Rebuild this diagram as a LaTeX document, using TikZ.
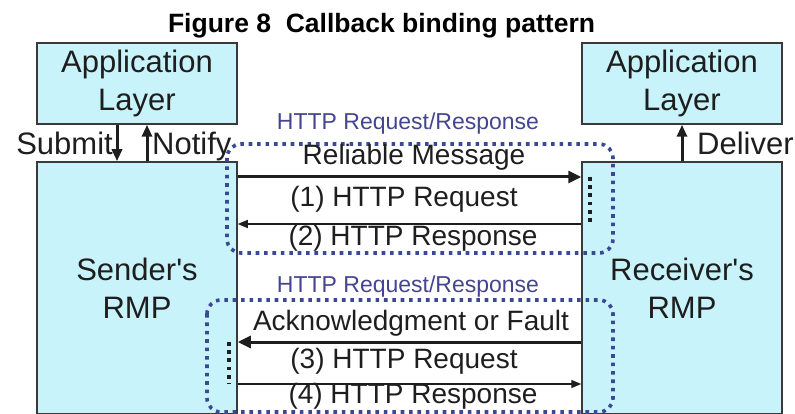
\documentclass[tikz,border=0pt]{standalone}
\usepackage{fontspec}
\setmainfont{Liberation Sans}
\usetikzlibrary{arrows.meta, positioning, calc}
\definecolor{cbink}{HTML}{1E1E1E}
\definecolor{cbfill}{HTML}{C8F3FA}
\definecolor{cbedge}{HTML}{3A3A3A}
\definecolor{cbring}{HTML}{3B4896}
\definecolor{cbtext}{HTML}{45458F}
\tikzset{
  layerbox/.style={draw=cbedge, fill=cbfill, line width=1.5pt, minimum width=200pt,
                   align=center, text=cbink, inner sep=0pt,
                   font=\fontsize{31}{38}\selectfont},
  msg/.style={anchor=base, inner sep=0pt, text=cbink, font=\fontsize{28}{33}\selectfont},
  side/.style={inner sep=0pt, text=cbink, font=\fontsize{31}{36}\selectfont},
  bindlbl/.style={anchor=base, inner sep=0pt, text=cbtext, font=\fontsize{23}{27}\selectfont},
  httpring/.style={cbring, line width=3.6pt, dash pattern=on 3.6pt off 4.8pt,
                   rounded corners=14pt},
  tipdots/.style={cbink, line width=3.8pt, dash pattern=on 3.8pt off 4.4pt},
  heavy/.style={-{Triangle[length=13pt,width=12pt]}, line width=3pt, cbink},
  light/.style={-{Triangle[length=10pt,width=8pt]}, line width=1.4pt, cbink},
  updown/.style={-{Triangle[length=12pt,width=10pt]}, line width=3pt, cbink},
}
\begin{document}
\begin{tikzpicture}[x=1pt, y=-1pt]
  \useasboundingbox (0,0) rectangle (795,414);
  \node[anchor=base, inner sep=0pt, font=\fontsize{26.5}{30}\selectfont\bfseries] (title)
    at (381.5,33) {Figure 8\ \ Callback binding pattern};
  \node[layerbox, minimum height=81pt] (appS) at (137,83.5) {Application\\Layer};
  \node[layerbox, minimum height=81pt] (appR) at (682,83.5) {Application\\Layer};
  \node[layerbox, minimum height=252pt] (sndr) at (137,288) {Sender\textquotesingle s\\RMP};
  \node[layerbox, minimum height=252pt] (rcvr) at (682,288) {Receiver\textquotesingle s\\RMP};
  \draw[updown] ([xshift=-20pt]appS.south) -- ([xshift=-20pt]sndr.north);
  \draw[updown] ([xshift=10pt]sndr.north) -- ([xshift=10pt]appS.south);
  \draw[updown] (rcvr.north) -- (appR.south);
  \node[side, anchor=base east] (submit) at (113,155) {Submit};
  \node[side, anchor=base west] (notify) at (152,155) {Notify};
  \node[side, anchor=base west] (deliver) at (697,155) {Deliver};
  \draw[httpring] (227,144) rectangle (613,253);
  \draw[httpring] (207,300) rectangle (613,412);
  \node[bindlbl] (bind1) at (408,130) {HTTP Request/Response};
  \node[bindlbl] (bind2) at (408,292) {HTTP Request/Response};
  \coordinate (m1) at (0,177);
  \coordinate (m2) at (0,224);
  \coordinate (m3) at (0,342);
  \coordinate (m4) at (0,384);
  \draw[heavy] (sndr.east |- m1) -- (rcvr.west |- m1);
  \draw[light] (rcvr.west |- m2) -- (sndr.east |- m2);
  \draw[heavy] (rcvr.west |- m3) -- (sndr.east |- m3);
  \draw[light] (sndr.east |- m4) -- (rcvr.west |- m4);
  \draw[tipdots] ([xshift=9pt]rcvr.west |- m1) -- ([xshift=9pt]rcvr.west |- m2);
  \draw[tipdots] ([xshift=-9pt]sndr.east |- m3) -- ([xshift=-9pt]sndr.east |- m4);
  \node[msg] (relmsg) at (414,165) {Reliable Message};
  \node[msg] (req1) at (404,207) {(1) HTTP Request};
  \node[msg] (resp2) at (413,245) {(2) HTTP Response};
  \node[msg] (ackflt) at (411,330) {Acknowledgment or Fault};
  \node[msg] (req3) at (404,368) {(3) HTTP Request};
  \node[msg] (resp4) at (413,403) {(4) HTTP Response};
\end{tikzpicture}
\end{document}
